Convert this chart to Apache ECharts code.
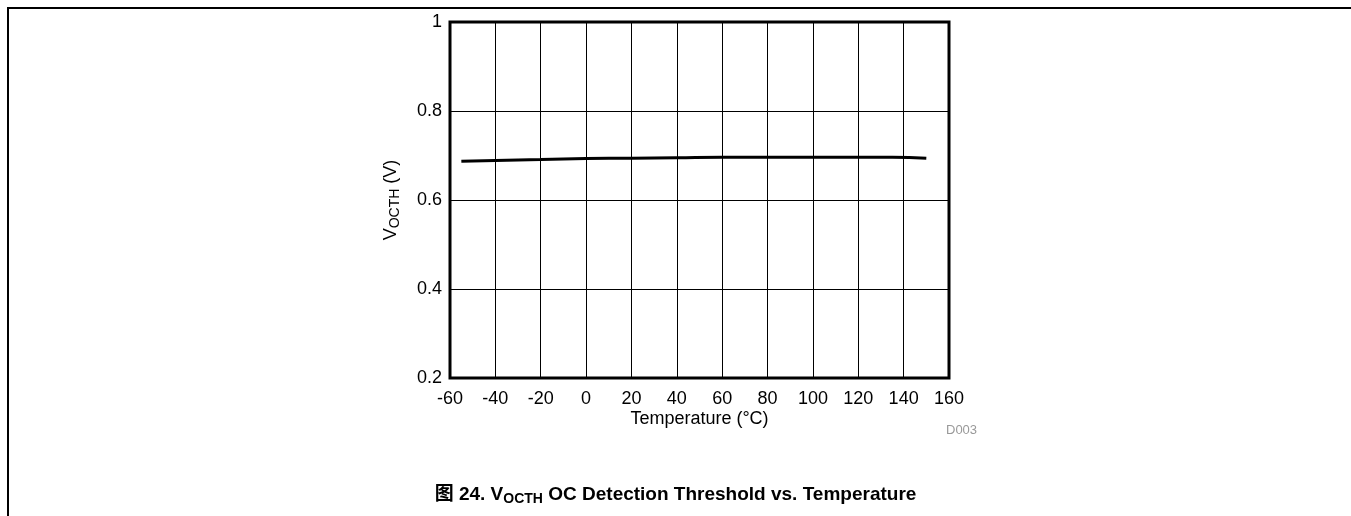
<!DOCTYPE html>
<html>
<head>
<meta charset="utf-8">
<script src="https://cdn.jsdelivr.net/npm/echarts@6/dist/echarts.min.js"></script>
<style>html,body{margin:0;padding:0;background:#fff;}#c{width:1351px;height:516px;}</style>
</head>
<body>
<div id="c"></div>
<script>
const temps = [-55, -40, -20, 0, 20, 40, 60, 80, 100, 120, 135, 150];
const voc = [0.687, 0.689, 0.691, 0.693, 0.694, 0.695, 0.696, 0.696, 0.696, 0.696, 0.696, 0.694];
const xTicks = [-60, -40, -20, 0, 20, 40, 60, 80, 100, 120, 140, 160];
const yTicks = [0.2, 0.4, 0.6, 0.8, 1];

const font = 'Liberation Sans, Arial, sans-serif';
const chart = echarts.init(document.getElementById('c'), null, {renderer: 'canvas'});
chart.setOption({
  animation: false,
  backgroundColor: '#fff',
  grid: {left: 450, right: 402, top: 22, bottom: 138, show: true, borderColor: '#000', borderWidth: 3, backgroundColor: 'transparent'},
  xAxis: {
    type: 'value', min: -60, max: 160, interval: 20,
    name: 'Temperature (°C)', nameLocation: 'middle', nameGap: 32, nameMoveOverlap: false,
    nameTextStyle: {fontFamily: font, fontSize: 18, color: '#000'},
    axisLine: {show: false}, axisTick: {show: false},
    axisLabel: {fontFamily: font, fontSize: 18, color: '#000', margin: 12,
      formatter: v => xTicks.includes(v) ? String(v) : ''},
    splitLine: {show: true, lineStyle: {color: '#000', width: 1}}
  },
  yAxis: {
    type: 'value', min: 0.2, max: 1, interval: 0.2,
    name: '{m|V}{s|OCTH}{m| (V)}', nameLocation: 'middle', nameGap: 48, nameRotate: 90, nameMoveOverlap: false,
    nameTextStyle: {rich: {
      m: {fontFamily: font, fontSize: 18, color: '#000'},
      s: {fontFamily: font, fontSize: 14, color: '#000', verticalAlign: 'bottom', padding: [7, 0, 0, 0]}
    }},
    axisLine: {show: false}, axisTick: {show: false},
    axisLabel: {fontFamily: font, fontSize: 18, color: '#000', margin: 8,
      formatter: v => { const r = Math.round(v * 10) / 10; return yTicks.includes(r) ? String(r) : ''; }},
    splitLine: {show: true, lineStyle: {color: '#000', width: 1}}
  },
  series: [{
    type: 'line', data: temps.map((t, i) => [t, voc[i]]),
    showSymbol: false, smooth: true,
    lineStyle: {color: '#000', width: 3}
  }],
  graphic: [
    {type: 'polyline', shape: {points: [[8, 516], [8, 8], [1351, 8]]}, style: {stroke: '#000', lineWidth: 2, fill: null}},
    {type: 'text', left: 946, top: 424, style: {text: 'D003', fontFamily: font, fontSize: 13, fill: '#999'}},
    {type: 'text', left: 'center', top: 485, style: {
      text: '{b|图 24. V}{s|OCTH}{b| OC Detection Threshold vs. Temperature}',
      rich: {
        b: {fontFamily: 'Liberation Sans, "Noto Sans CJK SC", sans-serif', fontWeight: 'bold', fontSize: 19, fill: '#000'},
        s: {fontFamily: font, fontWeight: 'bold', fontSize: 14, fill: '#000', padding: [9, 0, 0, 0]}
      }
    }}
  ]
});
</script>
</body>
</html>
